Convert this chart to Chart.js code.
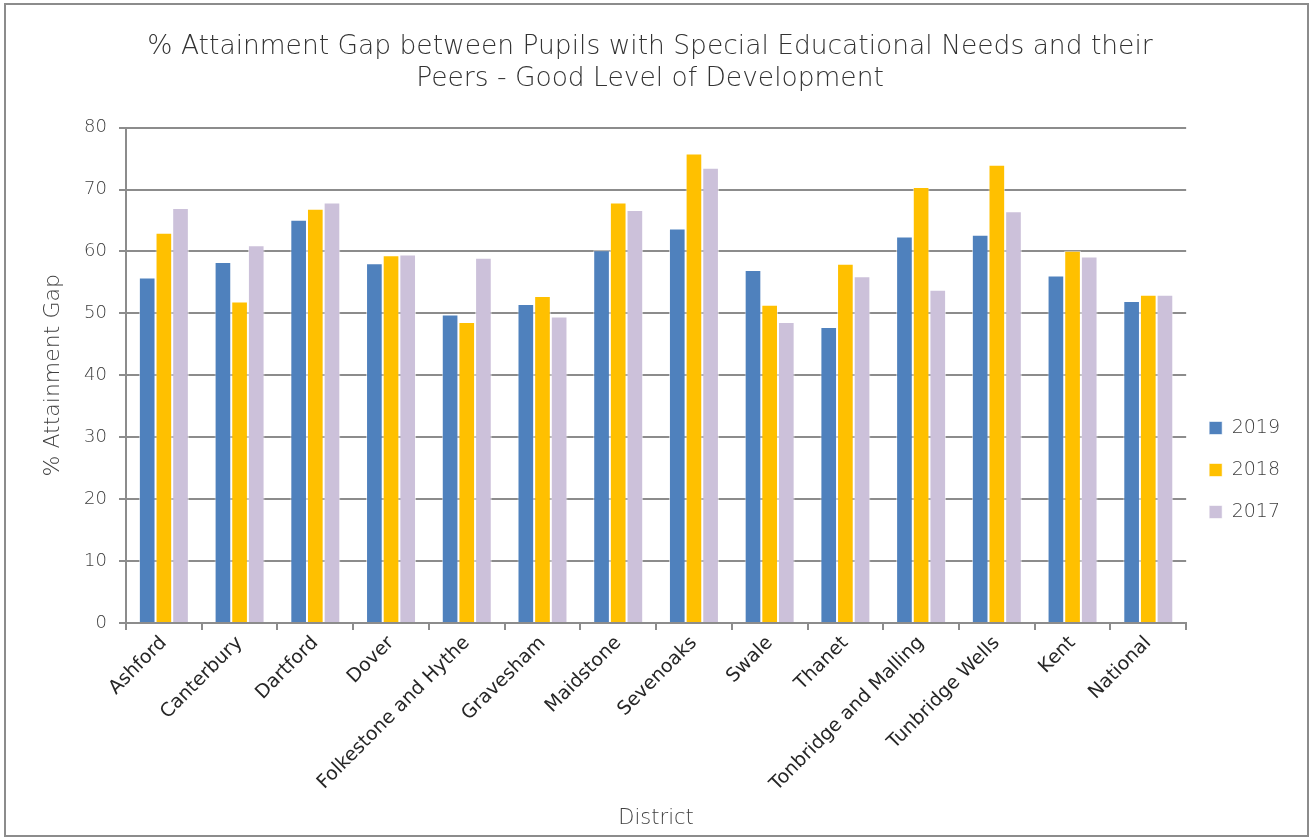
<!DOCTYPE html>
<html>
<head>
<meta charset="utf-8">
<script src="https://cdn.jsdelivr.net/npm/chart.js@4.4.1/dist/chart.umd.min.js"></script>
<style>
  html, body { margin: 0; padding: 0; background: #fff; }
  #gapChart { position: absolute; left: 0; top: 0; }
  #frame { position: absolute; left: 4px; top: 3px; width: 1301px; height: 830px; border: 2px solid #8c8c8c; pointer-events: none; }
</style>
</head>
<body>
<canvas id="gapChart" width="1312" height="839"></canvas>
<div id="frame"></div>
<script>
// data
const districts = ['Ashford', 'Canterbury', 'Dartford', 'Dover', 'Folkestone and Hythe', 'Gravesham',
  'Maidstone', 'Sevenoaks', 'Swale', 'Thanet', 'Tonbridge and Malling', 'Tunbridge Wells', 'Kent', 'National'];
const gap2019 = [55.8, 58.3, 65.1, 58.1, 49.8, 51.5, 60.2, 63.7, 57.0, 47.8, 62.4, 62.7, 56.1, 52.0];
const gap2018 = [63.0, 51.9, 66.9, 59.4, 48.6, 52.8, 67.9, 75.8, 51.4, 58.0, 70.4, 74.0, 60.1, 53.0];
const gap2017 = [67.0, 61.0, 67.9, 59.5, 59.0, 49.5, 66.7, 73.5, 48.6, 56.0, 53.8, 66.5, 59.2, 53.0];
const yTicks = [0, 10, 20, 30, 40, 50, 60, 70, 80];

const fontFam = "'DejaVu Sans', sans-serif";
const txt = '#404040';

function barSet(label, values, colour) {
  return {
    label: label,
    data: values,
    backgroundColor: colour,
    borderColor: 'rgba(255,255,255,0.6)',
    borderWidth: 1,
    barPercentage: 1,
    categoryPercentage: 0.66
  };
}

const config = {
  type: 'bar',
  data: {
    labels: districts,
    datasets: [
      barSet('2019', gap2019, '#4f81bd'),
      barSet('2018', gap2018, '#ffc000'),
      barSet('2017', gap2017, '#ccc1da')
    ]
  },
  options: {
    responsive: false,
    animation: false,
    layout: { padding: { top: 25, left: 10, right: 22, bottom: 8 } },
    plugins: {
      title: {
        display: true,
        text: ['% Attainment Gap between Pupils with Special Educational Needs and their', 'Peers - Good Level of Development'],
        color: '#333333',
        font: { family: fontFam, size: 26.5, weight: '200' },
        padding: { top: 6, bottom: 33 },
        lineHeight: 1.15
      },
      legend: {
        position: 'right',
        fullSize: true,
        // empty title only pushes the entries down to where the original has them
        title: { display: true, text: ' ', font: { size: 10 }, padding: { top: 0, bottom: 72 } },
        labels: {
          boxWidth: 13, boxHeight: 13,
          color: txt,
          padding: 23,
          font: { family: fontFam, size: 19, weight: '200' }
        }
      },
      tooltip: { enabled: false }
    },
    scales: {
      x: {
        afterFit: function(axis) { axis.height = 208; },
        grid: { display: true, drawOnChartArea: false, offset: true, color: '#8c8c8c', lineWidth: 2, tickLength: 7 },
        border: { color: '#8c8c8c', width: 2 },
        ticks: { color: '#262626', maxRotation: 45, minRotation: 45, padding: 2, font: { family: fontFam, size: 19 } },
        title: { display: true, text: 'District', color: txt, font: { family: fontFam, size: 21, weight: '200' }, padding: { top: 0, bottom: 0 } }
      },
      y: {
        min: 0, max: 80,
        afterBuildTicks: function(axis) { axis.ticks = yTicks.map(function(v) { return { value: v }; }); },
        afterFit: function(axis) { axis.width = 116; },
        grid: { color: '#8c8c8c', lineWidth: 2, tickLength: 7 },
        border: { color: '#8c8c8c', width: 2 },
        ticks: { color: txt, padding: 12, font: { family: fontFam, size: 18, weight: '200' } },
        title: { display: true, text: '% Attainment Gap', color: txt, font: { family: fontFam, size: 22, weight: '200' }, padding: { top: 30, bottom: 0 } }
      }
    }
  }
};

const gapChart = new Chart(document.getElementById('gapChart'), config);
</script>
</body>
</html>
